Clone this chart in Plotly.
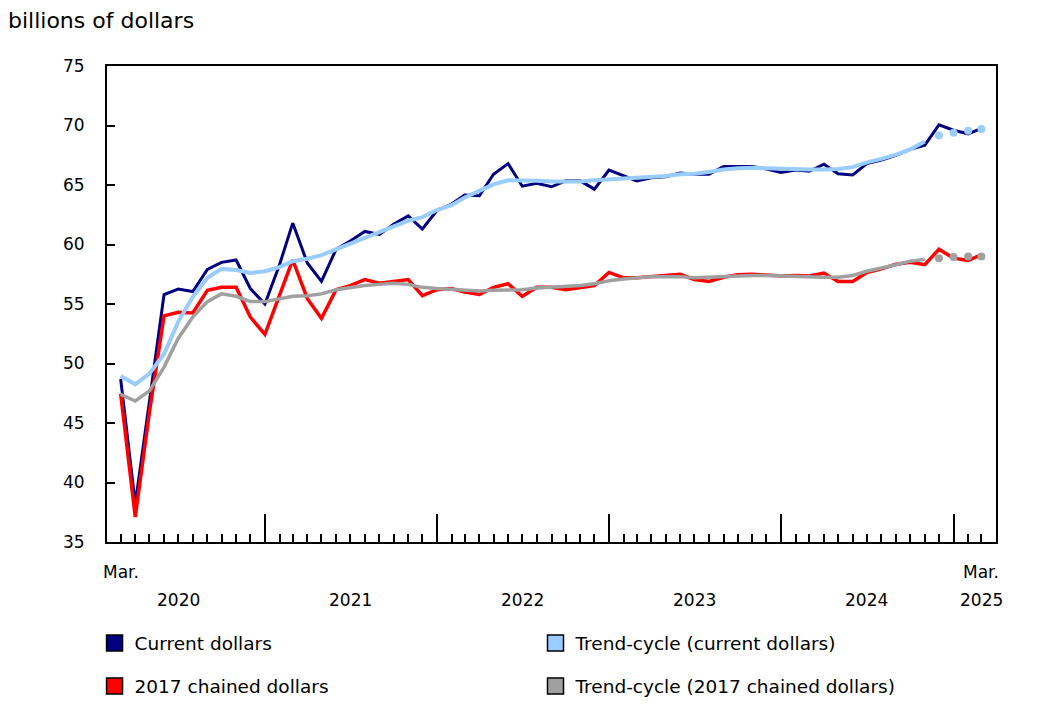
"""Retail-style monthly sales chart: current vs 2017 chained dollars with trend-cycles"""

import pandas as pd
import plotly.graph_objects as go

# Monthly values, March 2020 to March 2025 (billions of dollars)
months = pd.date_range("2020-03-01", "2025-03-01", freq="MS")

current_dollars = [
    48.7, 38.2, 46.8, 55.8, 56.25, 56.05, 57.9, 58.5, 58.7, 56.3, 55.0,
    58.3, 61.8, 58.45, 56.9, 59.6, 60.3, 61.1, 60.85, 61.7, 62.4,
    61.3, 62.85, 63.4, 64.15, 64.1, 65.9, 66.8, 64.9, 65.15, 64.85,
    65.35, 65.35, 64.65, 66.25, 65.75, 65.35, 65.6, 65.7, 66.0, 65.9,
    65.9, 66.55, 66.55, 66.55, 66.35, 66.05, 66.25, 66.15, 66.75, 65.95,
    65.85, 66.8, 67.1, 67.5, 68.0, 68.35, 70.05, 69.6, 69.3, 69.75,
]
trend_current = [
    48.95, 48.25, 49.15, 50.8, 53.5, 55.6, 57.2, 57.95, 57.85, 57.6, 57.75,
    58.1, 58.6, 58.8, 59.1, 59.6, 60.05, 60.5, 61.0, 61.55, 62.0,
    62.3, 62.9, 63.3, 63.95, 64.5, 65.05, 65.4, 65.4, 65.35, 65.3,
    65.3, 65.3, 65.4, 65.5, 65.55, 65.6, 65.65, 65.75, 65.9, 65.95,
    66.1, 66.3, 66.4, 66.45, 66.4, 66.35, 66.3, 66.3, 66.3, 66.35,
    66.5, 66.9, 67.2, 67.55, 68.0, 68.65, 69.15, 69.4, 69.55, 69.7,
]
chained_dollars = [
    47.45, 37.1, 45.9, 54.0, 54.3, 54.25, 56.15, 56.4, 56.4, 53.9, 52.45,
    55.8, 58.7, 55.45, 53.8, 56.2, 56.55, 57.05, 56.75, 56.9, 57.05,
    55.7, 56.2, 56.3, 56.0, 55.8, 56.4, 56.7, 55.65, 56.4, 56.4,
    56.2, 56.35, 56.55, 57.65, 57.2, 57.2, 57.3, 57.45, 57.5, 57.05,
    56.9, 57.25, 57.45, 57.5, 57.4, 57.35, 57.4, 57.35, 57.6, 56.9,
    56.9, 57.65, 57.95, 58.35, 58.5, 58.3, 59.6, 58.85, 58.65, 59.15,
]
trend_chained = [
    47.4, 46.85, 47.7, 49.7, 52.1, 53.9, 55.2, 55.85, 55.65, 55.2, 55.2,
    55.45, 55.65, 55.7, 55.85, 56.2, 56.4, 56.55, 56.65, 56.75, 56.65,
    56.4, 56.3, 56.25, 56.15, 56.1, 56.15, 56.2, 56.2, 56.35, 56.4,
    56.45, 56.55, 56.7, 56.95, 57.1, 57.2, 57.3, 57.3, 57.3, 57.2,
    57.25, 57.3, 57.4, 57.4, 57.4, 57.35, 57.3, 57.3, 57.25, 57.25,
    57.4, 57.75, 58.0, 58.3, 58.6, 58.75, 58.85, 58.95, 59.0, 59.0,
]

# last four trend-cycle months are provisional and drawn as dots
n_provisional = 4

year_labels = ["2020", "2021", "2022", "2023", "2024", "2025"]
year_label_dates = ["2020-07-01", "2021-07-01", "2022-07-01", "2023-07-01", "2024-07-01", "2025-03-01"]
year_boundaries = ["2021-01-01", "2022-01-01", "2023-01-01", "2024-01-01", "2025-01-01"]

NAVY = "#000080"
LIGHT_BLUE = "#99ccff"
RED = "#ff0000"
GREY = "#a0a0a0"
FONT = "DejaVu Sans"

split = len(months) - n_provisional

fig = go.Figure()

fig.add_trace(go.Scatter(x=months, y=current_dollars, mode="lines",
                         line=dict(color=NAVY, width=3), showlegend=False))
fig.add_trace(go.Scatter(x=months, y=chained_dollars, mode="lines",
                         line=dict(color=RED, width=3.5), showlegend=False))
fig.add_trace(go.Scatter(x=months[:split], y=trend_current[:split], mode="lines",
                         line=dict(color=LIGHT_BLUE, width=4), showlegend=False))
fig.add_trace(go.Scatter(x=months[split:], y=trend_current[split:], mode="markers",
                         marker=dict(color=LIGHT_BLUE, size=8), showlegend=False))
fig.add_trace(go.Scatter(x=months[:split], y=trend_chained[:split], mode="lines",
                         line=dict(color=GREY, width=3.5), showlegend=False))
fig.add_trace(go.Scatter(x=months[split:], y=trend_chained[split:], mode="markers",
                         marker=dict(color=GREY, size=8), showlegend=False))

# legend-only entries with square swatches
legend_items = [
    ("Current dollars", NAVY, "legend"),
    ("2017 chained dollars", RED, "legend"),
    ("Trend-cycle (current dollars)", LIGHT_BLUE, "legend2"),
    ("Trend-cycle (2017 chained dollars)", GREY, "legend2"),
]
for name, color, leg in legend_items:
    fig.add_trace(go.Scatter(
        x=[None], y=[None], mode="markers", name=name, legend=leg, legendgroup=name,
        marker=dict(symbol="square", size=16, color=color, line=dict(color="#000000", width=1.5)),
    ))

for label, date in zip(year_labels, year_label_dates):
    fig.add_annotation(x=date, y=0, xref="x", yref="paper", text=label, showarrow=False,
                       yanchor="top", yshift=-46, font=dict(size=17))
for date in [months[0], months[-1]]:
    fig.add_annotation(x=date, y=0, xref="x", yref="paper", text="Mar.", showarrow=False,
                       yanchor="top", yshift=-18, font=dict(size=17))

# legends placed against the container so they do not push the plot margins
legend_style = dict(orientation="v", xanchor="left", yanchor="top", yref="container", y=0.108,
                    tracegroupgap=16, font=dict(size=18.5), itemwidth=30, bgcolor="rgba(0,0,0,0)")

# page body adds 8px around the figure, so size and margins allow for it
fig.update_layout(
    width=1042,
    height=691,
    margin=dict(l=99, r=54, t=58, b=157),
    paper_bgcolor="white",
    plot_bgcolor="white",
    font=dict(family=FONT, color="#000000", size=17),
    title=dict(text="billions of dollars", x=0, xanchor="left", xref="container",
               y=1 - 12 / 691, yanchor="middle", font=dict(size=22)),
    legend=dict(x=-0.014, **legend_style),
    legend2=dict(x=0.482, **legend_style),
)

fig.update_xaxes(
    range=["2020-02-01", "2025-04-01"],
    tickvals=year_boundaries,
    ticks="inside",
    ticklen=28,
    tickwidth=1.5,
    tickcolor="#000000",
    showticklabels=False,
    minor=dict(tickmode="linear", tick0="2020-03-01", dtick="M1", ticks="inside",
               ticklen=8, tickwidth=1.5, tickcolor="#000000", showgrid=False),
    showgrid=False,
    zeroline=False,
    showline=True,
    linecolor="#000000",
    linewidth=2,
    mirror=True,
)
fig.update_yaxes(
    range=[35, 75],
    dtick=5,
    ticks="inside",
    ticklen=8,
    tickwidth=2,
    tickcolor="#000000",
    ticklabelstandoff=17,
    showgrid=False,
    zeroline=False,
    showline=True,
    linecolor="#000000",
    linewidth=2,
    mirror=True,
)

fig.write_html("out.html")
